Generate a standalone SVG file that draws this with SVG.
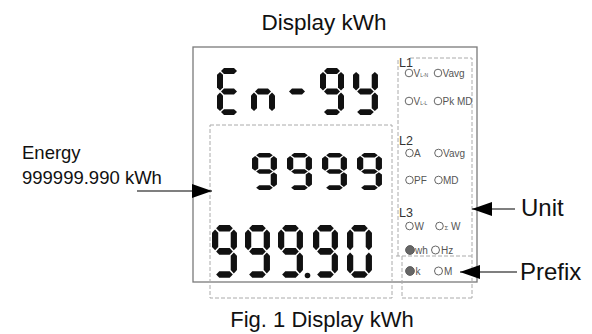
<svg xmlns="http://www.w3.org/2000/svg" xmlns:xlink="http://www.w3.org/1999/xlink" width="592" height="334" viewBox="0 0 592 334">
<style>
.t{font-family:"Liberation Sans",Arial,sans-serif;fill:#111}
.frame{fill:none;stroke:#7a7a7a;stroke-width:1.3}
.dash{fill:none;stroke:#aaa;stroke-width:1;stroke-dasharray:4 2}
.seg{fill:#111}
.lbl{font-family:"Liberation Sans",Arial,sans-serif;font-size:12.5px;fill:#333}
.it{font-family:"Liberation Sans",Arial,sans-serif;font-size:10px;fill:#555}
.ring{fill:#fff;stroke:#555;stroke-width:0.9}
.on{fill:#666;stroke:#555;stroke-width:0.9}
.conn{fill:none;stroke:#555;stroke-width:1.3}
</style>
<defs>
<marker id="ah" viewBox="0 0 20 14" refX="20" refY="7" markerWidth="20" markerHeight="14" markerUnits="userSpaceOnUse" orient="auto">
<path d="M0,0 L20,7 L0,14 z" fill="#000"/>
</marker>
<polygon id="sa" class="seg" points="4,3 7,0 17,0 20,3 17,6 7,6"/>
<polygon id="sg" class="seg" points="4,24 7,21 17,21 20,24 17,27 7,27"/>
<polygon id="sd" class="seg" points="4,45 7,42 17,42 20,45 17,48 7,48"/>
<polygon id="sf" class="seg" points="3,4 6,7 6,20 3,23 0,20 0,7"/>
<polygon id="sb" class="seg" points="21,4 24,7 24,20 21,23 18,20 18,7"/>
<polygon id="se" class="seg" points="3,25 6,28 6,41 3,44 0,41 0,28"/>
<polygon id="sc" class="seg" points="21,25 24,28 24,41 21,44 18,41 18,28"/>
<g id="d9"><use href="#sa"/><use href="#sb"/><use href="#sc"/><use href="#sd"/><use href="#sf"/><use href="#sg"/></g>
<g id="d0"><use href="#sa"/><use href="#sb"/><use href="#sc"/><use href="#sd"/><use href="#se"/><use href="#sf"/></g>
<g id="dE"><use href="#sa"/><use href="#sd"/><use href="#se"/><use href="#sf"/><use href="#sg"/></g>
<g id="dn"><use href="#sc"/><use href="#se"/><use href="#sg"/></g>
<g id="dy"><use href="#sb"/><use href="#sc"/><use href="#sd"/><use href="#sf"/><use href="#sg"/></g>
<g id="dm"><use href="#sg"/></g>
</defs>
<rect width="592" height="334" fill="#fff"/>
<text class="t" x="324" y="30" font-size="22.5" text-anchor="middle">Display kWh</text>
<text class="t" x="322" y="327" font-size="22" text-anchor="middle">Fig. 1 Display kWh</text>

<g id="meter">
<rect class="frame" x="193" y="47" width="284" height="235"/>
</g>

<g id="display-zone">
<rect class="dash" x="210" y="125" width="182" height="173"/>
</g>

<g id="lcd-row1">
<use href="#dE" transform="translate(217,68) scale(1,0.98)"/>
<use href="#dn" transform="translate(251,68) scale(1,0.98)"/>
<use href="#dm" transform="translate(285,68) scale(1,0.98)"/>
<use href="#d9" transform="translate(320,68) scale(1,0.98)"/>
<use href="#dy" transform="translate(353,68) scale(1.04,0.98)"/>
</g>
<g id="lcd-row2">
<use href="#d9" transform="translate(252,153) scale(1.04,0.77)"/>
<use href="#d9" transform="translate(287,153) scale(1.04,0.77)"/>
<use href="#d9" transform="translate(322,153) scale(1.04,0.77)"/>
<use href="#d9" transform="translate(357,153) scale(1.04,0.77)"/>
</g>
<g id="lcd-row3">
<use href="#d9" transform="translate(212,225) scale(1.04,1.1)"/>
<use href="#d9" transform="translate(245,225) scale(1.04,1.1)"/>
<use href="#d9" transform="translate(278,225) scale(1.04,1.1)"/>
<circle cx="307.5" cy="275.5" r="2.8" fill="#111"/>
<use href="#d9" transform="translate(313,225) scale(1.04,1.1)"/>
<use href="#d0" transform="translate(347,225) scale(1.04,1.1)"/>
</g>

<g id="unit-panel">
<path class="dash" d="M410,58 H472 V298 M398,60 V256 M396,256 H472 M402,256 V298 H472"/>
<text class="lbl" x="399" y="67">L1</text>
<circle class="ring" cx="409" cy="73" r="3.8"/>
<text class="it" x="413.5" y="76.5">V<tspan font-size="5">L-N</tspan></text>
<circle class="ring" cx="438" cy="73" r="3.8"/>
<text class="it" x="442.5" y="76.5">Vavg</text>
<circle class="ring" cx="409" cy="101" r="3.8"/>
<text class="it" x="413.5" y="104.5">V<tspan font-size="5">L-L</tspan></text>
<circle class="ring" cx="438" cy="101" r="3.8"/>
<text class="it" x="442.5" y="104.5">Pk MD</text>

<text class="lbl" x="399" y="145">L2</text>
<circle class="ring" cx="409.5" cy="153" r="3.8"/>
<text class="it" x="414" y="156.5">A</text>
<circle class="ring" cx="438.5" cy="153" r="3.8"/>
<text class="it" x="443" y="156.5">Vavg</text>
<circle class="ring" cx="409.5" cy="180" r="3.8"/>
<text class="it" x="414" y="183.5">PF</text>
<circle class="ring" cx="438.5" cy="180" r="3.8"/>
<text class="it" x="443" y="183.5">MD</text>

<text class="lbl" x="399" y="217">L3</text>
<circle class="ring" cx="409.5" cy="226" r="3.8"/>
<text class="it" x="414.5" y="229.5">W</text>
<circle class="ring" cx="439.5" cy="226" r="3.8"/>
<text class="it" x="444.5" y="229.5"><tspan font-size="6">Σ</tspan> W</text>
<circle class="on" cx="410" cy="250" r="4.4"/>
<text class="it" x="415" y="253.5">wh</text>
<circle class="ring" cx="435.5" cy="250" r="4"/>
<text class="it" x="441" y="253.5">Hz</text>
</g>

<g id="prefix-panel">
<circle class="on" cx="410" cy="271" r="4.4"/>
<text class="it" x="415.5" y="274.5">k</text>
<circle class="ring" cx="438.5" cy="271" r="4"/>
<text class="it" x="444" y="274.5">M</text>
</g>

<g id="energy-label">
<text class="t" x="22" y="159" font-size="18.5">Energy</text>
<text class="t" x="22" y="184" font-size="18.5">999999.990 kWh</text>
</g>
<g id="unit-label"><text class="t" x="521" y="216" font-size="24">Unit</text></g>
<g id="prefix-label"><text class="t" x="520" y="280" font-size="24">Prefix</text></g>

<g id="connectors">
<line class="conn" x1="137" y1="191" x2="212" y2="191" marker-end="url(#ah)"/>
<line class="conn" x1="515" y1="209" x2="472" y2="209" marker-end="url(#ah)"/>
<line class="conn" x1="517" y1="272" x2="460" y2="272" marker-end="url(#ah)"/>
</g>
</svg>
